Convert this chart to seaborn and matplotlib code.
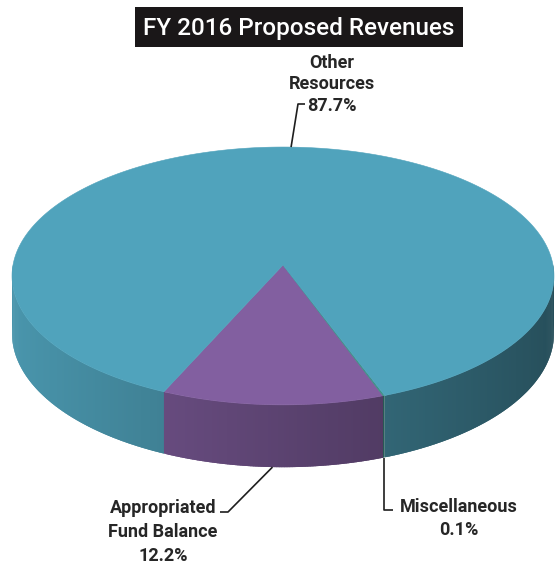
import numpy as np
import matplotlib
matplotlib.use("Agg")
import matplotlib.pyplot as plt
import seaborn as sns
from matplotlib.patches import Polygon, Rectangle

# ---- data -------------------------------------------------------------
categories = ["Appropriated\nFund Balance", "Miscellaneous", "Other\nResources"]
shares = [12.2, 0.1, 87.7]
share_labels = ["12.2%", "0.1%", "87.7%"]
title = "FY 2016 Proposed Revenues"

top_colors = ["#825fa0", "#3f8f86", "#50a3bc"]

# ---- style -------------------------------------------------------------
sns.set_theme(style="white")
plt.rcParams["font.family"] = ["Roboto", "Liberation Sans", "DejaVu Sans"]

fig = plt.figure(figsize=(5.55, 5.66), dpi=100)
ax = fig.add_axes([0, 0, 1, 1])
ax.set_xlim(0, 555)
ax.set_ylim(566, 0)
ax.axis("off")

# ---- 3-D pie geometry (screen space, slight perspective) --------------
CX, CY = 283.0, 265.0      # centre of the top face
RX, RY = 270.0, 128.0      # radii of the top face
PERSP = 0.085              # perspective strength (front looks larger)
DEPTH = 57.0               # thickness of the disc
START = -24.0              # first wedge starts here (deg, 0 = front, clockwise)


def rim(theta_deg):
    t = np.radians(theta_deg)
    x, z = np.sin(t), np.cos(t)
    s = 1.0 / (1.0 - PERSP * z)
    return CX + RX * x * s, CY + RY * z * s, DEPTH * s


def shade(color, theta_deg):
    rgb = np.array(matplotlib.colors.to_rgb(color))
    f = 0.70 - 0.22 * np.sin(np.radians(theta_deg))
    return tuple(np.clip(rgb * f, 0, 1))


sweeps = np.array(shares) / np.sum(shares) * 360.0
bounds = START + np.concatenate([[0], np.cumsum(sweeps)])


def wedge_at(theta_deg):
    rel = (theta_deg - START) % 360.0
    return int(np.searchsorted(np.cumsum(sweeps), rel, side="right"))


# side wall: only the front half is visible; thin overlapping strips give
# the shading that runs from the lit left side to the dark right side
cuts = [-90.0, 90.0]
for b in bounds:
    bb = (b + 180.0) % 360.0 - 180.0
    if -90.0 < bb < 90.0:
        cuts.append(bb)
cuts = sorted(set(cuts))
for a0, a1 in zip(cuts[:-1], cuts[1:]):
    idx = wedge_at(0.5 * (a0 + a1))
    n = max(1, int((a1 - a0) / 0.5))
    ts = np.linspace(a0, a1, n + 1)
    for k, (t0, t1) in enumerate(zip(ts[:-1], ts[1:])):
        t1x = t1 if k == n - 1 else t1 + 0.6
        tt = np.linspace(t0, t1x, 4)
        xs, ys, ds = rim(tt)
        pts = list(zip(xs, ys)) + list(zip(xs[::-1], (ys + ds)[::-1]))
        c = shade(top_colors[idx], 0.5 * (t0 + t1))
        ax.add_patch(Polygon(pts, closed=True, facecolor=c, edgecolor="none",
                             linewidth=0))

# top face
for i, (a0, a1) in enumerate(zip(bounds[:-1], bounds[1:])):
    ts = np.linspace(a0, a1, max(3, int((a1 - a0) * 2)))
    xs, ys, _ = rim(ts)
    pts = [(CX, CY)] + list(zip(xs, ys))
    ax.add_patch(Polygon(pts, closed=True, facecolor=top_colors[i],
                         edgecolor=top_colors[i], linewidth=0.4))

# ---- title -------------------------------------------------------------
ax.add_patch(Rectangle((135, 7), 328, 40, facecolor="#1a1718", edgecolor="none"))
ax.text(299, 28, title, color="white", fontsize=17.5, ha="center", va="center",
        fontweight="medium")

# ---- labels with leader lines -----------------------------------------
mids = 0.5 * (bounds[:-1] + bounds[1:])
lab_kw = dict(fontsize=13, fontweight="bold", color="#262626",
              ha="center", va="baseline")
line_kw = dict(color="#1e1e1e", linewidth=1.2, solid_capstyle="butt")


def label_lines(cx, baselines, cat, pct):
    for txt, yb in zip(cat.split("\n") + [pct], baselines):
        ax.text(cx, yb, txt, **lab_kw)


# Appropriated Fund Balance: from the bottom rim down-left to the label
x, y, d = rim(mids[0])
ax.plot([x, 228, 220], [y + d, 512, 512], **line_kw)
label_lines(163, [513, 537, 561], categories[0], share_labels[0])

# Miscellaneous: straight down from the bottom rim
x, y, d = rim(mids[1])
ax.plot([x, x, x + 9], [y + d, 510, 510], **line_kw)
label_lines(459, [512, 535], categories[1], share_labels[1])

# Other Resources: up from the back of the top face
x, y, d = rim(mids[2])
ax.plot([x, 298, 305], [y, 104, 104], **line_kw)
label_lines(332, [68, 89, 111], categories[2], share_labels[2])

fig.savefig("out.png", dpi=100)
